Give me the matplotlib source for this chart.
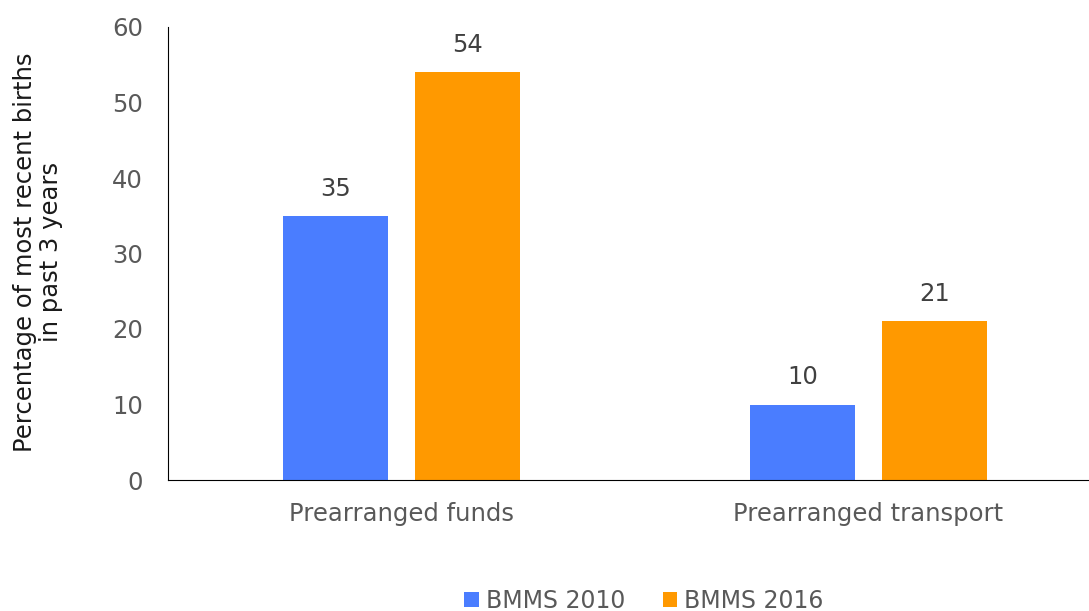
import numpy as np
import matplotlib
matplotlib.use('Agg')
import matplotlib.pyplot as plt

categories = ['Prearranged funds', 'Prearranged transport']
series = ['BMMS 2010', 'BMMS 2016']
values_2010 = [35, 10]
values_2016 = [54, 21]
colors = ['#4A7DFF', '#FF9900']

plt.rcParams['font.family'] = ['DejaVu Sans']
fs = 17.5

fig = plt.figure(figsize=(10.89, 6.11), dpi=100)
ax = fig.add_axes([168/1089, (611-480)/611, 934/1089, (480-27)/611])

x = np.arange(len(categories))
w = 0.225
off = 0.141
b1 = ax.bar(x - off, values_2010, w, color=colors[0], label=series[0])
b2 = ax.bar(x + off, values_2016, w, color=colors[1], label=series[1])

for bars in (b1, b2):
    for r in bars:
        ax.text(r.get_x() + r.get_width()/2, r.get_height() + 2.0, '%d' % r.get_height(),
                ha='center', va='bottom', fontsize=fs, color='#404040')

ax.set_xlim(-0.5, 1.5)
ax.set_ylim(0, 60)
ax.set_yticks(range(0, 61, 10))
ax.set_xticks(x)
ax.set_xticklabels(categories)
ax.tick_params(axis='both', length=0, labelsize=fs, labelcolor='#595959')
ax.tick_params(axis='y', pad=18)
ax.tick_params(axis='x', pad=16)
for s in ['top', 'right']:
    ax.spines[s].set_visible(False)
ax.spines['left'].set_color('black')
ax.spines['bottom'].set_color('black')
ax.set_ylabel('Percentage of most recent births\nin past 3 years', fontsize=fs, color='#1a1a1a',
              linespacing=1.1, va='center')
ax.yaxis.set_label_coords(-0.139, 0.503)

fig.legend(handles=[b1, b2], loc='center', bbox_to_anchor=(644/1089, 1 - 601/611), ncol=2,
           frameon=False, fontsize=17, handlelength=0.6, handleheight=0.6, handletextpad=0.3,
           columnspacing=1.6, labelcolor='#595959')

fig.savefig('out.png', dpi=100)
